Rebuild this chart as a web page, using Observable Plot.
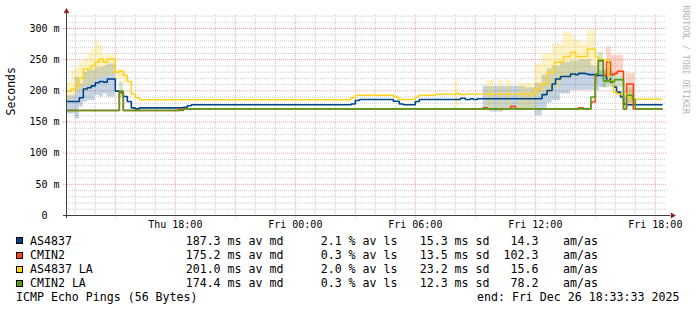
<!DOCTYPE html>
<html><head><meta charset="utf-8">
<script src="https://cdn.jsdelivr.net/npm/d3@7"></script>
<script src="https://cdn.jsdelivr.net/npm/@observablehq/plot@0.6"></script>
<style>
body{margin:0;background:#fff}
#chart{width:697px;height:311px;position:relative;overflow:hidden;background:#fff}
#legend{position:relative;width:697px;height:79px;font-family:"DejaVu Sans Mono",monospace;font-size:11.6px;line-height:14px;color:#000}
#legend span{position:absolute;white-space:pre}
#legend .sw{position:absolute;width:7px;height:7px;box-sizing:border-box;border:1px solid #000}
</style></head>
<body><div id="chart"></div>
<script>
// time in hours since Thu 2025-12-25 00:00
const START = 12 + 33/60 + 33/3600;   // Thu 12:33:33
const END = START + 30;               // Fri 18:33:33

// median lines: [hour, ms]
const as4837 = [[12.56,183],[13.2,189],[13.4,203],[13.6,205],[13.8,208],[14.0,213],[14.2,215],[14.4,214],[14.6,219],[15.0,199.5],[15.2,197.5],[15.4,191],[15.6,183],[15.8,172.7],[16.0,171],[16.2,172.7],[18.4,173.5],[18.6,176],[18.8,177.6],[26.8,179],[27.0,184.5],[27.2,186],[28.9,183.4],[29.2,179],[29.4,177.6],[30.0,183],[30.2,186],[32.26,188],[32.5,186],[32.76,187.3],[32.9,186],[33.1,187.3],[36.34,194],[36.59,200.5],[36.84,211],[37.01,219],[37.26,223],[37.76,227],[38.01,226],[38.16,228],[38.51,227],[38.66,226],[39.01,224.6],[39.56,219],[39.76,214],[39.91,206],[40.06,198],[40.26,190],[40.41,179],[40.56,177.6],[42.36,177.6]];
const cmin2 = [[12.56,168.5],[15.2,197],[15.4,168.5],[18.16,170.5],[18.41,171],[33.39,172.7],[33.61,171],[34.76,175],[35.01,171],[38.16,172.7],[38.41,171],[38.78,182],[39.0,227],[39.15,248],[39.4,224.6],[39.56,246],[39.76,226],[39.96,228],[40.1,231.5],[40.41,171],[40.56,211],[40.9,171],[42.36,171]];
const as4837LA = [[12.56,199.5],[12.8,203],[13.0,208.6],[13.2,220],[13.4,235],[13.8,240.6],[14.0,246],[14.2,251],[14.4,246],[14.6,251],[15.0,230],[15.2,231.5],[15.4,224.6],[15.6,215],[15.8,195],[16.0,188.8],[16.2,185.6],[26.76,189],[27.01,193],[28.91,190],[29.16,186],[30.0,190],[30.16,193],[31.0,194.6],[32.0,195.6],[32.26,193.6],[32.5,195],[36.0,203],[36.26,211],[36.61,230],[36.96,246],[37.41,255],[37.76,262],[38.01,255],[38.61,267],[39.01,254],[39.16,250],[39.66,216],[39.91,198],[40.06,195],[40.56,190],[40.81,186.5],[42.36,186.5]];
const cmin2LA = [[12.56,168.5],[15.2,199.5],[15.4,168.5],[18.41,171],[38.78,190],[39.0,227],[39.15,249],[39.4,216],[39.76,215],[39.96,218],[40.41,171],[40.56,193],[40.86,186],[41.0,171],[42.36,171]];

// smoke bands: blocks of [hour, lo, hi] ... ending with [endHour]
const bandAS4837 = [
 [[12.56,163,192],[13.0,155,222],[13.2,174,211],[13.4,182,230],[13.6,184.5,233],[14.0,192.5,238],[14.2,190,238],[14.4,195,240],[14.6,190,243],[15.0]],
 [[33.39,168.5,207],[33.72,166,207],[34.4,171,207],[35.5,170,205],[36.0,160,212],[36.34,172,225],[36.6,180,235],[36.84,184.5,240],[37.26,195,246],[37.76,200.5,248],[38.2,201,250],[38.8,201,240],[39.0,200,228],[39.2,205,232],[39.56,211,232],[39.9]]
];
const bandCMIN2 = [
 [[39.56,240,270],[39.8,225,257],[40.41]],
 [[40.56,180,228],[41.0]]
];
const bandAS4837LA = [
 [[12.56,185,214],[12.8,190,232.6],[13.0,195,238],[13.2,200,246],[13.4,205,251],[13.6,208,259],[13.8,212,267],[14.0,218,281],[14.2,222,273],[14.4,222,257],[14.6,225,258],[15.0,218,235],[15.4,212,232],[15.6]],
 [[32.0,174,215],[32.16]],
 [[33.56,170,216.6],[33.96]],
 [[34.16,166,216.6],[34.41]],
 [[34.56,170,216.6],[34.81]],
 [[35.16,171,212],[36.0,190,243],[36.34,195,259],[36.84,205,275],[37.26,215,275],[37.41,220,294],[37.76,222,289],[38.0,225,281],[38.3,228,275],[38.61,232,297],[39.01]]
];
const bandCMIN2LA = [
 [[15.2,188,214],[15.4]],
 [[39.0,210,240],[39.15,225,262],[39.4,205,235],[39.76,205,225],[40.41]],
 [[40.56,175,205],[41.0]]
];

const names = ["AS4837","CMIN2","AS4837 LA","CMIN2 LA"];
const colors = ["#004586","#ff420e","#ffd320","#579d1c"];
const avMedian = [187.3,175.2,201.0,174.4];
const avLoss = [2.1,0.3,2.0,0.3];
const stdDev = [15.3,13.5,23.2,12.3];
const amas = [14.3,102.3,15.6,78.2];
const yTicks = [0,50,100,150,200,250,300];
const xLabelHours = [18,24,30,36,42];

const BASE = Date.UTC(2025,11,25);
const t = h => new Date(BASE + h*3600000);
const lineRows = s => s.map(([h,v]) => ({time:t(h), v}));
const bandRows = blocks => blocks.flatMap((b,bi) => {
  const out = [];
  for (let i=0;i<b.length-1;i++) out.push({time:t(b[i][0]), lo:b[i][1], hi:b[i][2], g:bi});
  const p = b[b.length-2];
  out.push({time:t(b[b.length-1][0]), lo:p[1], hi:p[2], g:bi});
  return out;
});

const yMinor = d3.range(10,321,10).filter(v => v%50);
const yMajor = yTicks.filter(v => v>0);
const hours = d3.range(13,43);
const xMinor = hours.filter(h => h%3).map(t);
const xMajor = hours.filter(h => h%3===0).map(t);

const series = [as4837,cmin2,as4837LA,cmin2LA];
const bands = [bandAS4837,bandCMIN2,bandAS4837LA,bandCMIN2LA];
const bandOpacity = [0.23,0.22,0.26,0.25];

const axisCol = "#404040";
const svg = Plot.plot({
  width:697, height:232,
  marginLeft:66, marginRight:31, marginTop:15, marginBottom:17,
  x:{type:"utc", domain:[t(START), t(END)]},
  y:{domain:[0,320.86]},
  style:{fontFamily:"DejaVu Sans Mono", fontSize:"10px", background:"#fff", color:"#000"},
  marks:[
    Plot.ruleY(yMinor,{stroke:"#cdcdcd", strokeDasharray:"1,1"}),
    Plot.ruleX(xMinor,{stroke:"#cdcdcd", strokeDasharray:"1,1"}),
    Plot.ruleY(yMajor,{x1:t(START-0.15), x2:t(END), stroke:"#f0a0a0", strokeDasharray:"1,1"}),
    Plot.ruleX(xMajor,{y1:-5, y2:320.86, stroke:"#f0a0a0", strokeDasharray:"1,1"}),
    ...bands.map((b,i) => Plot.areaY(bandRows(b),{x:"time", y1:"lo", y2:"hi", z:"g", curve:"step-after", fill:colors[i], fillOpacity:bandOpacity[i]})),
    ...series.map((s,i) => Plot.line(lineRows(s),{x:"time", y:"v", curve:"step-after", stroke:colors[i], strokeWidth:1.6, strokeLinejoin:"miter", strokeLinecap:"butt"})),
    Plot.ruleX([t(START)],{y1:-5, y2:327, stroke:axisCol}),
    Plot.ruleY([0],{x1:t(START-0.15), x2:t(END+0.2), stroke:axisCol}),
    Plot.dot([{h:START, v:327.5}],{x:d=>t(d.h), y:"v", symbol:"triangle", r:1.9, fill:"#801f1f", stroke:"#801f1f", strokeWidth:0.5}),
    Plot.dot([{h:END+0.3, v:0}],{x:d=>t(d.h), y:"v", symbol:"triangle", rotate:90, r:1.9, fill:"#801f1f", stroke:"#801f1f", strokeWidth:0.5}),
    Plot.axisY({ticks:yTicks, tickSize:0, tickPadding:7, tickFormat:d => d===0 ? "0\u00a0\u00a0" : d+" m", label:null}),
    Plot.axisX({ticks:xLabelHours.map(t), tickSize:0, tickPadding:5, tickFormat:d3.utcFormat("%a %H:%M"), label:null}),
    Plot.text(["Seconds"],{frameAnchor:"left", dx:-55, rotate:-90, fontSize:11.5, fill:"#000"}),
    Plot.text(["RRDTOOL / TOBI OETIKER"],{frameAnchor:"top-right", dx:22, dy:-10, rotate:90, textAnchor:"start", fontSize:8.2, fill:"#b4b4b4"})
  ]
});
const chart = document.getElementById("chart");
chart.appendChild(svg);

// legend below the svg
const leg = document.createElement("div");
leg.id = "legend";
chart.appendChild(leg);
const LTOP = 232;
const baselines = [244.7,258.8,273.2,287.2];
function span(txt, left, baseline, right){
  const s = document.createElement("span");
  s.textContent = txt;
  s.style.top = (baseline - 11 - LTOP) + "px";
  if (right !== undefined) { s.style.right = (697-right)+"px"; } else s.style.left = left+"px";
  leg.appendChild(s);
}
names.forEach((n,i) => {
  const b = baselines[i];
  const sw = document.createElement("div");
  sw.className = "sw";
  sw.style.left = "16px";
  sw.style.top = (b - 7.3 - LTOP) + "px";
  sw.style.background = colors[i];
  leg.appendChild(sw);
  span(n, 30, b);
  span(avMedian[i].toFixed(1)+" ms av md", 185.7, b);
  span(avLoss[i].toFixed(1)+" % av ls", 320.7, b);
  span(stdDev[i].toFixed(1)+" ms sd", 419.7, b);
  span(amas[i].toFixed(1), null, b, 538.5);
  span("am/as", 563, b);
});
span("ICMP Echo Pings (56 Bytes)", 16, 301);
span("end: Fri Dec 26 18:33:33 2025", 477, 301);
</script></body></html>
